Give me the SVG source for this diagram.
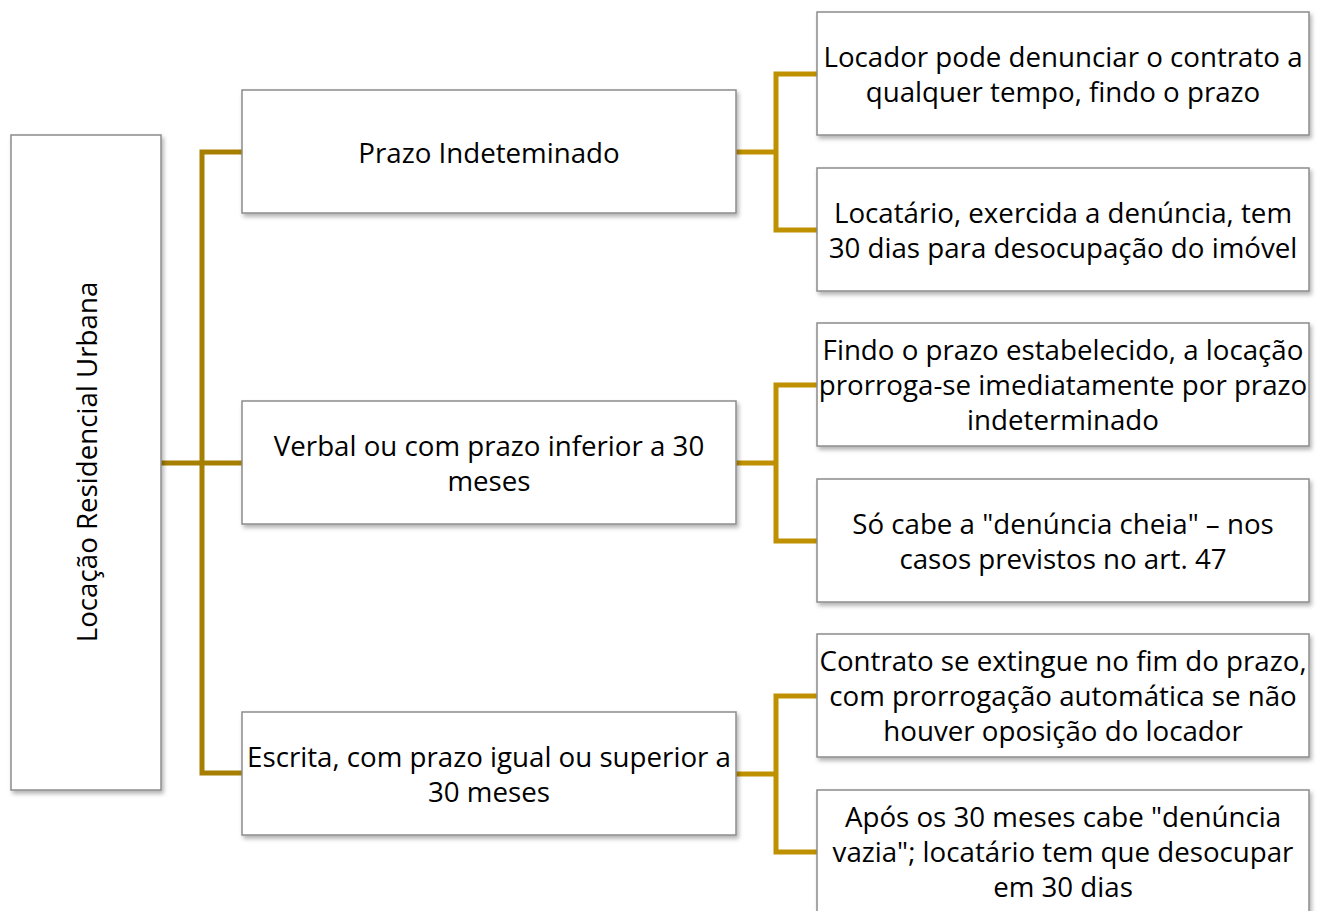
<svg xmlns="http://www.w3.org/2000/svg" width="1318" height="911" viewBox="0 0 1318 911">
<style>
.box{fill:#fff;stroke:#8c8c8c;stroke-width:1.5;filter:url(#sh)}
.t{font-family:"Open Sans","Liberation Sans",sans-serif;font-size:27.7px;fill:#000;text-anchor:middle;dominant-baseline:central}
.cl{fill:none;stroke:#A67F00;stroke-width:5}
.cr{fill:none;stroke:#BF9000;stroke-width:5}
</style>
<defs>
<filter id="sh" x="-10%" y="-10%" width="120%" height="130%">
<feDropShadow dx="2" dy="3" stdDeviation="2" flood-color="#000" flood-opacity="0.3"/>
</filter>
</defs>
<rect width="1318" height="911" fill="#fff"/>
<g id="connectors">
<path class="cl" d="M161 463H202M242 152H202V773H242M202 463H242"/>
<path class="cr" d="M736 152H776M817 74H776V230H817"/>
<path class="cr" d="M736 463H776M817 385H776V541H817"/>
<path class="cr" d="M736 774H776M817 696H776V852H817"/>
</g>
<g id="root">
<rect class="box" x="11" y="135" width="150" height="655"/>
<text class="t" transform="translate(86 462) rotate(-90)">Locação Residencial Urbana</text>
</g>
<g id="m1">
<rect class="box" x="242" y="90" width="494" height="123"/>
<text class="t" x="489" y="152">Prazo Indeteminado</text>
</g>
<g id="m2">
<rect class="box" x="242" y="401" width="494" height="123"/>
<text class="t" x="489" y="445">Verbal ou com prazo inferior a 30</text>
<text class="t" x="489" y="480">meses</text>
</g>
<g id="m3">
<rect class="box" x="242" y="712" width="494" height="123"/>
<text class="t" x="489" y="756">Escrita, com prazo igual ou superior a</text>
<text class="t" x="489" y="791">30 meses</text>
</g>
<g id="r1">
<rect class="box" x="817" y="12" width="492" height="123"/>
<text class="t" x="1063" y="56">Locador pode denunciar o contrato a</text>
<text class="t" x="1063" y="91">qualquer tempo, findo o prazo</text>
</g>
<g id="r2">
<rect class="box" x="817" y="168" width="492" height="123"/>
<text class="t" x="1063" y="212">Locatário, exercida a denúncia, tem</text>
<text class="t" x="1063" y="247">30 dias para desocupação do imóvel</text>
</g>
<g id="r3">
<rect class="box" x="817" y="323" width="492" height="123"/>
<text class="t" x="1063" y="349">Findo o prazo estabelecido, a locação</text>
<text class="t" x="1063" y="384">prorroga-se imediatamente por prazo</text>
<text class="t" x="1063" y="419">indeterminado</text>
</g>
<g id="r4">
<rect class="box" x="817" y="479" width="492" height="123"/>
<text class="t" x="1063" y="523">Só cabe a "denúncia cheia" – nos</text>
<text class="t" x="1063" y="558">casos previstos no art. 47</text>
</g>
<g id="r5">
<rect class="box" x="817" y="634" width="492" height="123"/>
<text class="t" x="1063" y="660">Contrato se extingue no fim do prazo,</text>
<text class="t" x="1063" y="695">com prorrogação automática se não</text>
<text class="t" x="1063" y="730">houver oposição do locador</text>
</g>
<g id="r6">
<rect class="box" x="817" y="790" width="492" height="123"/>
<text class="t" x="1063" y="816">Após os 30 meses cabe "denúncia</text>
<text class="t" x="1063" y="851">vazia"; locatário tem que desocupar</text>
<text class="t" x="1063" y="886">em 30 dias</text>
</g>
</svg>
